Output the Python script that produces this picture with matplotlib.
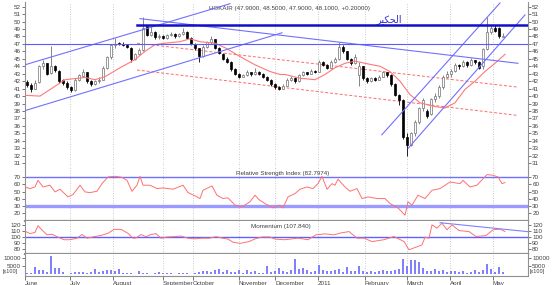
import matplotlib.pyplot as plt

W, H = 554, 285

# ==================================================
# Daily candles (index = trading step)
# ==================================================
opens = [41.9, 41.5, 41.0, 41.9, 44.0, 44.4, 43.1, 44.0, 43.4, 42.1,
         41.8, 41.2, 40.8, 42.2, 42.7, 43.2, 42.0, 41.6, 42.0, 42.2,
         43.8, 45.2, 46.8, 47.1, 47.0, 46.9, 46.5, 45.0, 45.6, 46.2,
         49.4, 48.2, 48.6, 47.9, 48.0, 47.8, 48.2, 48.4, 48.0, 48.3,
         48.6, 47.8, 47.0, 46.4, 45.4, 46.6, 47.2, 47.6, 46.5, 45.6,
         45.0, 44.6, 43.6, 43.0, 42.6, 42.8, 43.2, 42.9, 43.3, 43.0,
         42.6, 42.2, 41.6, 41.2, 41.0, 41.4, 42.2, 42.4, 42.0, 42.8,
         43.2, 43.0, 43.4, 43.3, 44.6, 44.2, 43.8, 44.6, 45.0, 46.6,
         46.0, 45.0, 44.4, 42.8, 44.0, 42.4, 42.0, 42.4, 42.2, 42.6,
         43.2, 42.8, 41.6, 40.2, 39.5, 34.5, 33.5, 35.0, 36.5, 38.4,
         38.0, 37.6, 39.6, 40.0, 41.2, 42.6, 43.0, 43.4, 44.2, 44.0,
         44.6, 44.2, 44.8, 44.6, 44.0, 46.3, 48.6, 49.2, 49.2, 47.9]
highs = [42.2, 41.8, 42.1, 44.2, 44.8, 44.5, 46.7, 44.2, 43.5, 42.3,
         42.0, 41.4, 42.4, 43.0, 43.7, 43.3, 42.2, 42.2, 42.5, 44.0,
         45.4, 47.0, 47.8, 47.3, 47.2, 47.0, 46.6, 45.8, 46.4, 50.6,
         49.6, 49.4, 48.7, 48.3, 48.2, 48.4, 48.6, 48.5, 48.5, 49.2,
         48.7, 47.9, 47.1, 46.5, 46.8, 47.4, 48.0, 47.7, 46.6, 45.8,
         45.2, 44.7, 43.8, 43.1, 43.0, 43.5, 43.3, 43.8, 43.4, 43.1,
         42.7, 42.3, 41.7, 41.4, 41.6, 42.4, 42.7, 42.5, 43.0, 43.4,
         43.3, 43.6, 43.5, 44.9, 44.7, 44.3, 44.8, 45.2, 47.2, 46.8,
         46.1, 45.1, 45.6, 44.6, 44.1, 42.6, 42.6, 42.5, 42.8, 43.4,
         43.3, 42.9, 41.7, 40.3, 39.6, 35.0, 35.2, 36.8, 38.6, 39.8,
         38.2, 39.8, 40.4, 41.5, 42.8, 43.4, 43.6, 44.5, 44.3, 44.9,
         44.7, 45.1, 44.9, 44.7, 46.5, 50.6, 49.6, 49.6, 49.3, 48.5]
lows = [41.2, 40.6, 40.9, 41.8, 43.7, 42.8, 43.0, 43.2, 41.8, 41.5,
        41.0, 40.5, 40.7, 42.0, 42.6, 41.8, 41.3, 41.5, 41.8, 42.1,
        43.7, 45.0, 46.5, 46.8, 46.7, 46.4, 44.6, 44.9, 45.5, 46.1,
        48.0, 48.0, 47.7, 47.6, 47.6, 47.7, 48.0, 47.8, 47.9, 48.2,
        47.6, 46.8, 46.2, 44.6, 45.3, 46.4, 47.0, 46.3, 45.6, 44.8,
        44.4, 43.4, 42.8, 42.4, 42.5, 42.7, 42.7, 42.8, 42.8, 42.4,
        42.0, 41.4, 41.0, 40.8, 40.9, 41.3, 42.0, 41.8, 41.9, 42.7,
        42.8, 42.9, 43.1, 43.2, 44.0, 43.6, 43.7, 44.5, 44.9, 45.8,
        44.8, 44.2, 44.3, 41.3, 42.2, 41.8, 41.9, 42.0, 42.1, 42.5,
        42.6, 41.4, 40.0, 38.8, 34.2, 32.0, 33.3, 34.6, 36.3, 38.0,
        37.0, 37.5, 39.2, 39.8, 41.0, 42.4, 42.6, 43.2, 43.7, 43.9,
        43.9, 44.1, 44.3, 43.6, 43.7, 46.2, 48.3, 48.6, 47.8, 47.9]
closes = [41.5, 41.0, 41.8, 44.0, 44.5, 43.0, 44.0, 43.5, 42.0, 41.8,
          41.2, 40.8, 42.2, 42.8, 43.2, 42.0, 41.6, 42.0, 42.2, 43.8,
          45.2, 46.8, 47.0, 47.0, 46.9, 46.6, 45.0, 45.6, 46.2, 49.2,
          48.2, 48.6, 47.9, 48.0, 47.8, 48.2, 48.4, 48.0, 48.3, 48.6,
          47.8, 47.0, 46.4, 45.4, 46.6, 47.2, 47.6, 46.5, 45.8, 45.0,
          44.6, 43.6, 43.0, 42.6, 42.8, 43.2, 42.9, 43.3, 43.0, 42.6,
          42.2, 41.6, 41.2, 41.0, 41.4, 42.2, 42.4, 42.0, 42.8, 43.2,
          43.0, 43.4, 43.3, 44.6, 44.2, 43.8, 44.6, 45.0, 46.6, 46.0,
          45.0, 44.4, 45.3, 44.0, 42.4, 42.0, 42.4, 42.2, 42.6, 43.2,
          42.8, 41.6, 40.2, 39.5, 34.5, 33.5, 35.0, 36.5, 38.4, 39.5,
          37.3, 39.6, 40.0, 41.2, 42.6, 43.0, 43.4, 44.2, 44.0, 44.6,
          44.2, 44.8, 44.6, 43.8, 46.3, 48.6, 49.2, 48.8, 48.0, 48.1]
volume = [800, 600, 4200, 2800, 2500, 1200, 11200, 3800, 4000, 1200,
          500, 600, 1500, 1200, 1500, 1000, 1200, 3200, 1300, 2200,
          2500, 2800, 2000, 3000, 800, 600, 700, 500, 1800, 1000,
          600, 500, 800, 1500, 700, 600, 800, 500, 1000, 600,
          700, 500, 800, 1500, 1800, 2200, 1500, 2800, 3200, 1500,
          2500, 1200, 1500, 2800, 1000, 2400, 1200, 2000, 800, 1000,
          5200, 1200, 2000, 3800, 2000, 1500, 2500, 9400, 3500, 4000,
          2500, 1500, 2000, 5800, 2500, 2200, 1800, 2500, 3000, 1500,
          4500, 2200, 1800, 5000, 2000, 1500, 1800, 1200, 2000, 2500,
          1800, 2000, 2800, 3500, 9000, 5000, 8600, 8800, 7500, 3800,
          2200, 1800, 3200, 2000, 2500, 1500, 2200, 2000, 1200, 1800,
          1000, 1500, 2500, 1200, 2500, 6000, 3500, 1500, 4200, 1200]

# moving average (red line in the price panel)
ma_idx = [-0.5, 3.25, 9.5, 14.5, 17, 19.5, 23.25, 27, 29.5, 32, 34.5, 38.25,
          40.75, 43.25, 47, 49.5, 53.25, 57, 60.75, 63.25, 64.5, 68.25,
          72, 74.5, 77, 79.5, 82, 84.5, 88.25, 90.75, 93.25, 95.75, 98.25,
          102, 104.5, 107, 109.5, 112, 114.5, 117, 119.5]
ma_val = [40.1, 40.0, 42.2, 42.5, 42.2, 42.6, 43.8, 44.9, 46.0, 46.9, 47.1,
          47.3, 47.7, 47.3, 47.1, 46.5, 45.3, 44.2, 43.3, 42.9, 42.9, 42.4,
          42.2, 42.9, 43.8, 44.4, 44.7, 44.4, 44.0, 43.3, 42.0, 40.2, 39.1,
          38.6, 38.4, 39.1, 40.9, 42.0, 43.3, 44.4, 45.6]

# relative strength index (index, value) pairs
rsi_idx = [-0.5, 0.75, 2, 2.75, 4, 5.75, 7, 8.25, 10.25, 11.5, 13.25, 14.5,
           15.75, 17.5, 18.75, 20.25, 22, 23.75, 25, 26.25, 27.5, 28.25, 29,
           30.75, 32.5, 34, 36.5, 39, 40.25, 42, 43.25, 44, 46.25, 47.5,
           49, 50.25, 52, 53.75, 55.75, 57, 58, 59.5, 61.5, 63,
           64, 65.25, 67, 68.25, 70, 71.5, 72.75, 73.75, 75, 76.25, 77,
           77.75, 79.5, 80.75, 82.5, 83.75, 85.25, 87.5, 89.5, 90.75, 92.75,
           94.5, 95.25, 96.25, 97.75, 99.5, 101.25, 103.25, 105.75, 108.25,
           109, 110.75, 112.5, 113.25, 115, 116.5, 117.75, 118.75, 119.5]
rsi_val = [56.6, 54.3, 56.6, 65.8, 56.6, 59.0, 49.7, 53.4, 42.8, 46.0, 59.0,
           49.7, 48.8, 50.6, 61.2, 70.5, 71.4, 70.0, 65.8, 50.6, 59.0, 71.4,
           59.0, 59.0, 54.3, 55.3, 53.4, 59.0, 48.8, 44.2, 40.5, 52.0, 58.0,
           45.0, 40.5, 41.5, 31.3, 29.0, 36.0, 45.1, 39.0, 33.5, 27.5, 31.3,
           27.5, 42.8, 47.4, 53.4, 56.6, 54.3, 61.2, 71.4, 53.4, 61.2, 59.0,
           67.3, 56.6, 50.6, 54.3, 40.5, 42.8, 40.5, 40.5, 33.6, 27.5, 17.3,
           36.0, 31.3, 45.1, 40.5, 52.0, 54.3, 63.5, 61.2, 65.8, 56.6, 59.0,
           63.5, 73.7, 72.8, 70.5, 61.2, 62.6]

# momentum (index, value) pairs
mom_idx = [-0.5, 0.75, 2, 2.75, 3.75, 5, 6.25, 7.5, 9.25, 10.75, 12.5, 13.75,
           15, 16.75, 18.5, 20.25, 21.75, 23.5, 25.25, 26.5, 27.25, 28.5,
           29.75, 31, 32.25, 33.5, 35, 36.75, 38.5, 40.25, 42, 43.75, 45.5,
           47.25, 49, 50.25, 51.5, 53.25, 55.5, 57.25, 58.75, 60.75, 62,
           64.5, 67.75, 70.25, 72.25, 74.5, 76.75, 78.25, 80.5, 82.5, 84.25,
           86.25, 89.25, 91.75, 94.25, 95.5, 97.25, 98.75, 99.5, 100.5,
           101.25, 102.5, 103.75, 105, 106.25, 108, 110.5, 112.25, 114.75,
           116.5, 118.25, 119.5]
mom_val = [110, 106, 108, 119, 112, 104, 105, 101, 96, 96, 98.5, 104.5, 98.5,
           101, 103, 106.5, 113, 113, 106.5, 98.5, 99, 104.5, 101, 104.5, 106,
           98.5, 100.5, 101, 102, 98.5, 97.5, 98.5, 98.5, 101, 98.5, 97, 92,
           90, 93, 98, 100.5, 100.5, 97, 96, 98.6, 96, 104, 105.6, 104, 106.8,
           109.4, 98.6, 98.6, 93, 96, 101.3, 93, 79.5, 83.8, 87.5, 100, 98.6,
           120.4, 115, 123.2, 112.2, 120.4, 111, 109.4, 101.3, 102.8, 112.2,
           113.6, 109.4]

months = ["June", "July", "August", "September", "October", "November",
          "December", "2011", "February", "March", "April", "May"]
month_idx = [-0.5, 10.75, 21.5, 34, 41.5, 53, 62, 72.75, 84.5, 95, 105.75,
             116.5]

# drawn trend lines: (x0, y0, x1, y1) in (index, price)
blue_lines = [(-0.5, 44.2, 50.75, 52.4), (-0.5, 38.05, 63.75, 48.5),
              (28.25, 50.4, 122.75, 44.4), (88.7, 34.8, 118.25, 52.5),
              (95.3, 33.0, 124.5, 50.9)]
red_lines = [(27.5, 47.1, 122.75, 41.2), (27.5, 43.5, 122.75, 37.4)]
support_level = 47.05
resist_level = 49.6
resist_start = 27.5
mom_line = (103.25, 123.9, 125.25, 109.2)

title_txt = "HOKAIR (47.9000, 48.5000, 47.9000, 48.1000, +0.20000)"
name_ar = "\uFEAE\uFEF4\uFEDC\uFEA4\uFEDF\uFE8D"  # الحكير (shaped, visual order)

plt.rcParams['font.family'] = ['Liberation Sans', 'DejaVu Sans']

XMIN, XMAX = -0.5, 125.25


def px_box(x0, y0, x1, y1):
    return [x0 / W, 1 - y1 / H, (x1 - x0) / W, (y1 - y0) / H]


fig = plt.figure(figsize=(W / 100, H / 100), dpi=100)
ax_p = fig.add_axes(px_box(25, 2, 528, 167))
ax_r = fig.add_axes(px_box(25, 167, 528, 221))
ax_m = fig.add_axes(px_box(25, 221, 528, 254))
ax_v = fig.add_axes(px_box(25, 254, 528, 276))

for ax in (ax_p, ax_r, ax_m, ax_v):
    ax.set_xlim(XMIN, XMAX)
    for m in month_idx[1:]:
        ax.axvline(m, color="#b8b8b8", lw=0.6, ls=(0, (1, 2)), zorder=0)
    ax.tick_params(axis="y", which="both", left=True, right=True,
                   labelleft=True, labelright=True, length=2, width=0.5,
                   pad=1, labelsize=4.5, colors="#404040")
    ax.tick_params(axis="x", bottom=False, labelbottom=False)
    for s in ("left", "right"):
        ax.spines[s].set_color("#909090")
        ax.spines[s].set_linewidth(0.8)
    ax.spines["top"].set_visible(False)
    ax.spines["bottom"].set_visible(False)

# ----- price panel -----
for i in range(len(closes)):
    o, h, l, c = opens[i], highs[i], lows[i], closes[i]
    up = c >= o
    col = "#707070" if up else "#000000"
    ax_p.vlines(i, l, h, color=col, lw=0.6, zorder=2)
    ax_p.bar(i, max(abs(c - o), 0.08), bottom=min(o, c), width=0.62,
             facecolor="white" if up else "black", edgecolor=col,
             linewidth=0.5, zorder=3)
ax_p.plot(ma_idx, ma_val, color="#ff7878", lw=0.8, zorder=4)
for x0, y0, x1, y1 in blue_lines:
    ax_p.plot([x0, x1], [y0, y1], color="#7070ff", lw=0.8, zorder=5)
for x0, y0, x1, y1 in red_lines:
    ax_p.plot([x0, x1], [y0, y1], color="#ff6a6a", lw=0.7,
              ls=(0, (3, 2)), zorder=1)
ax_p.axhline(support_level, color="#5a5aff", lw=0.8, zorder=5)
ax_p.plot([resist_start, XMAX], [resist_level, resist_level],
          color="#1010c8", lw=1.8, zorder=6)
ax_p.set_ylim(30.48, 52.63)
ax_p.set_yticks(range(31, 53))
ax_p.text(0.365, 0.975, title_txt, transform=ax_p.transAxes, fontsize=4.5,
          color="#404040", va="top", ha="left")
ax_p.text(0.724, 0.895, name_ar, transform=ax_p.transAxes, fontsize=7,
          color="#3030d0", ha="center", va="center", family=["DejaVu Sans"])

# ----- RSI panel -----
n = min(len(rsi_idx), len(rsi_val))
ax_r.plot(rsi_idx[:n], rsi_val[:n], color="#ff7070", lw=0.7, zorder=3)
ax_r.axhline(70, color="#7070ff", lw=1.0, zorder=2)
ax_r.axhline(30, color="#9a9aff", lw=2.4, zorder=2)
ax_r.set_ylim(9.3, 84.3)
ax_r.set_yticks([20, 30, 40, 50, 60, 70])
ax_r.text(0.42, 0.93, "Relative Strength Index (82.7974)",
          transform=ax_r.transAxes, fontsize=4.5, color="#404040",
          ha="left", va="top")
ax_r.spines["bottom"].set_visible(True)
ax_r.spines["bottom"].set_color("#909090")
ax_r.spines["bottom"].set_linewidth(1.6)

# ----- momentum panel -----
n = min(len(mom_idx), len(mom_val))
ax_m.plot(mom_idx[:n], mom_val[:n], color="#ff7070", lw=0.7, zorder=3)
ax_m.axhline(100, color="#6060ff", lw=1.0, zorder=2)
ax_m.plot(mom_line[::2], mom_line[1::2], color="#8080ff", lw=0.8, zorder=4)
ax_m.set_ylim(72.6, 126.7)
ax_m.set_yticks([80, 90, 100, 110, 120])
ax_m.text(0.45, 0.9, "Momentum (107.840)", transform=ax_m.transAxes,
          fontsize=4.5, color="#404040", ha="left", va="top")
ax_m.spines["bottom"].set_visible(True)
ax_m.spines["bottom"].set_color("#909090")
ax_m.spines["bottom"].set_linewidth(1.6)

# ----- volume panel -----
ax_v.bar(range(len(volume)), volume, width=0.35, color="#8080ff", zorder=2)
ax_v.set_ylim(-1000, 12200)
ax_v.set_yticks([5000, 10000])
ax_v.spines["bottom"].set_visible(True)
ax_v.spines["bottom"].set_color("#909090")
ax_v.spines["bottom"].set_linewidth(0.8)
ax_v.set_xticks(month_idx)
ax_v.set_xticklabels(months)
ax_v.tick_params(axis="x", bottom=True, labelbottom=True, length=3,
                 width=0.5, pad=0.5, labelsize=4.5, colors="#404040")
for lab in ax_v.get_xticklabels():
    lab.set_horizontalalignment("left")
fig.text(3 / W, 1 - 272 / H, "[x100]", fontsize=4, color="#404040",
         va="center", ha="left")
fig.text(530 / W, 1 - 272 / H, "[x100]", fontsize=4, color="#404040",
         va="center", ha="left")

fig.savefig("out.png", dpi=100)
